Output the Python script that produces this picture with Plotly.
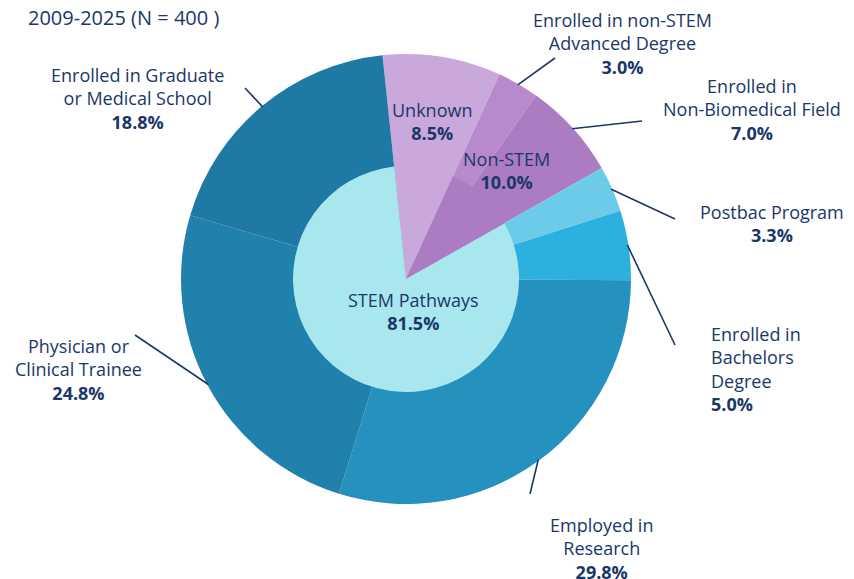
import math

import plotly.graph_objects as go

# ---- data -------------------------------------------------------------
title_text = "2009-2025 (N = 400 )"

inner_labels = ["Unknown", "Non-STEM", "STEM Pathways"]
inner_values = [8.5, 10.0, 81.5]

outer_labels = [
    "Unknown",
    "Enrolled in non-STEM<br>Advanced Degree",
    "Enrolled in<br>Non-Biomedical Field",
    "Postbac Program",
    "Enrolled in<br>Bachelors<br>Degree",
    "Employed in<br>Research",
    "Physician or<br>Clinical Trainee",
    "Enrolled in Graduate<br>or Medical School",
]
outer_values = [8.5, 3.0, 7.0, 3.3, 5.0, 29.8, 24.8, 18.8]

# ---- styling ----------------------------------------------------------
OFF = 8                    # page body margin
W, H = 854 - OFF, 579 - OFF
CX, CY = 406, 279          # pie centre, page px
R_OUT, R_IN = 225, 113     # radii, px
ROTATION = -6
NAVY = "#1b3768"
FONT = "Open Sans"
FS = 18

inner_colors = ["#c9a8dc", "#ab7cc2", "#a9e7ee"]
outer_colors = ["#c9a8dc", "#b98acb", "#ab7cc2", "#6ccbe9",
                "#2cb0de", "#2591be", "#1f81ac", "#1e79a4"]

# where each outer label sits (page px): (x, y, xanchor, align) and leader-line end
label_pos = [
    None,
    (622, 43, "center", "center", 555, 58),
    (752, 110, "center", "center", 642, 121),
    (772, 224, "center", "center", 675, 219),
    (709, 369, "left", "left", 675, 345),
    (601, 548, "center", "center", 530, 494),
    (78, 369, "center", "center", 135, 335),
    (137, 98, "center", "center", 245, 88),
]


def px(x, y):
    return (x - OFF) / W, 1 - (y - OFF) / H


def mid_angles(values):
    total = sum(values)
    out, acc = [], 0.0
    for v in values:
        out.append(ROTATION + 360 * (acc + v / 2) / total)
        acc += v
    return out


def polar(angle, r):
    a = math.radians(angle)
    return CX + r * math.sin(a), CY - r * math.cos(a)


def domain(r):
    x0, y0 = px(CX - r, CY + r)
    x1, y1 = px(CX + r, CY - r)
    return dict(x=[x0, x1], y=[y0, y1])


fig = go.Figure()

fig.add_trace(go.Pie(
    labels=outer_labels, values=outer_values, sort=False,
    direction="clockwise", rotation=ROTATION,
    marker=dict(colors=outer_colors, line=dict(width=0)),
    textinfo="none", hoverinfo="skip", domain=domain(R_OUT),
))
fig.add_trace(go.Pie(
    labels=inner_labels, values=inner_values, sort=False,
    direction="clockwise", rotation=ROTATION,
    marker=dict(colors=inner_colors, line=dict(width=0)),
    textinfo="none", hoverinfo="skip", domain=domain(R_IN),
))

# outer labels + leader lines
for lab, val, ang, pos in zip(outer_labels, outer_values,
                              mid_angles(outer_values), label_pos):
    if pos is None:
        continue
    lx, ly, xanchor, align, ex, ey = pos
    sx, sy = polar(ang, R_OUT - 1)
    x0, y0 = px(sx, sy)
    x1, y1 = px(ex, ey)
    fig.add_shape(type="line", xref="paper", yref="paper",
                  x0=x0, y0=y0, x1=x1, y1=y1,
                  line=dict(color=NAVY, width=1.6))
    ax, ay = px(lx, ly)
    fig.add_annotation(
        x=ax, y=ay, xref="paper", yref="paper",
        text=f"{lab}<br><b>{val:.1f}%</b>",
        showarrow=False, xanchor=xanchor, yanchor="middle", align=align,
        font=dict(family=FONT, size=FS, color=NAVY),
    )

# inner labels
inner_mid = mid_angles(inner_values)
for i, rr in [(0, 160), (1, 148)]:
    tx, ty = polar(inner_mid[i], rr)
    ax, ay = px(tx, ty)
    fig.add_annotation(
        x=ax, y=ay, xref="paper", yref="paper",
        text=f"{inner_labels[i]}<br><b>{inner_values[i]:.1f}%</b>",
        showarrow=False, xanchor="center", yanchor="middle",
        font=dict(family=FONT, size=FS, color=NAVY),
    )
ax, ay = px(CX + 7, CY + 32)
fig.add_annotation(
    x=ax, y=ay, xref="paper", yref="paper",
    text=f"{inner_labels[2]}<br><b>{inner_values[2]:.1f}%</b>",
    showarrow=False, xanchor="center", yanchor="middle",
    font=dict(family=FONT, size=FS, color=NAVY),
)

# title (partly clipped at top in the original)
ax, ay = px(26, 17)
fig.add_annotation(
    x=ax, y=ay, xref="paper", yref="paper", text=title_text,
    showarrow=False, xanchor="left", yanchor="middle",
    font=dict(family=FONT, size=20, color=NAVY),
)

fig.update_layout(
    width=W, height=H,
    margin=dict(l=0, r=0, t=0, b=0),
    showlegend=False,
    paper_bgcolor="white",
    plot_bgcolor="white",
)

fig.write_html("out.html")
